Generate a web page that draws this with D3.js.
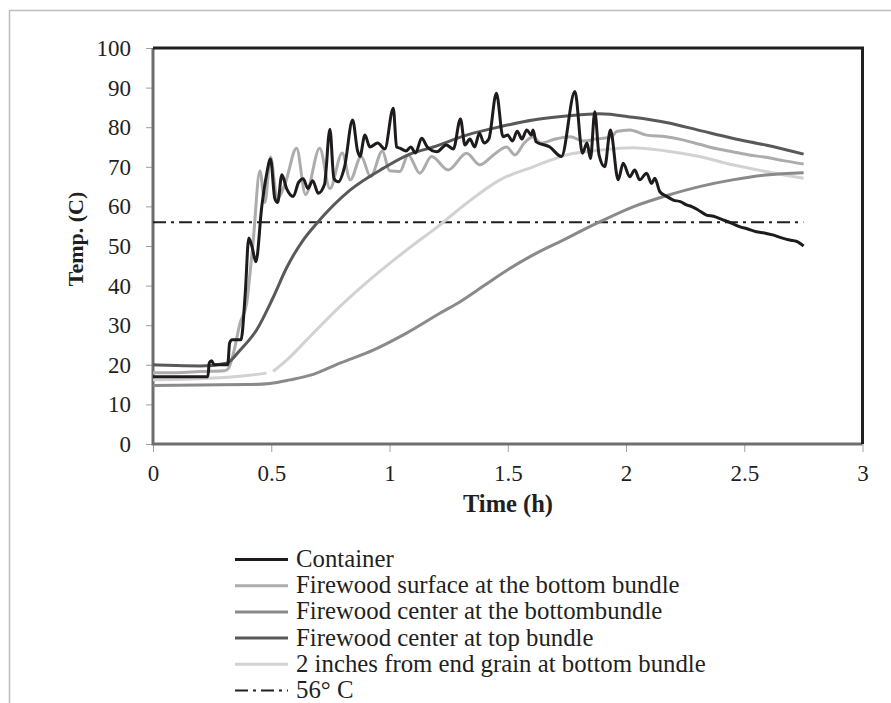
<!DOCTYPE html>
<html lang="en">
<head>
<meta charset="utf-8">
<style>
  body { margin: 0; background: white; }
  svg { font-family: "Liberation Serif", "Times New Roman", serif; }
</style>
<title></title>
</head>
<body>
<script src="https://d3js.org/d3.v7.min.js"></script>
<script>

// Container (thermocouple in the container air)
var containerTime = [0, 0.232, 0.238, 0.248, 0.258, 0.316, 0.324, 0.335, 0.372, 0.39, 0.405, 0.418, 0.435, 0.46, 0.48, 0.497,
  0.515, 0.527, 0.545, 0.565, 0.593, 0.615, 0.635, 0.655, 0.675, 0.699, 0.725, 0.748, 0.765, 0.783, 0.81, 0.844,
  0.865, 0.875, 0.896, 0.917, 0.95, 0.98, 1.016, 1.03, 1.044, 1.07, 1.09, 1.11, 1.136, 1.16, 1.2, 1.24, 1.27, 1.3,
  1.319, 1.34, 1.36, 1.38, 1.4, 1.42, 1.452, 1.48, 1.5, 1.52, 1.54, 1.56, 1.58, 1.6, 1.607, 1.62, 1.678, 1.727,
  1.784, 1.816, 1.835, 1.85, 1.868, 1.886, 1.91, 1.934, 1.967, 1.988, 2.016, 2.037, 2.058, 2.087, 2.108, 2.122,
  2.143, 2.17, 2.2, 2.23, 2.256, 2.28, 2.305, 2.34, 2.37, 2.41, 2.445, 2.48, 2.515, 2.551, 2.585, 2.62, 2.655,
  2.692, 2.72, 2.751];
var containerTemp = [17, 17, 20.5, 21, 20, 20, 25.5, 26.3, 26.3, 38, 52, 50, 46, 60, 68, 72,
  62, 61, 68, 64.5, 62.5, 66, 67, 64.5, 66.5, 63.3, 65.5, 79.5, 67, 66.2, 70, 81.8,
  74, 72.6, 78, 75, 76, 74.5, 84.8, 75, 74.7, 74, 75, 73.5, 77.2, 75, 73.8, 75.5, 74.5, 82.1,
  75.5, 77, 75, 78.5, 76, 77, 88.6, 77.6, 78, 76.5, 79, 77, 79.3, 78, 79.3, 76.3, 75, 72.6,
  89, 73.4, 76, 72.1, 83.9, 73, 70, 79.3, 66.7, 70.9, 67.5, 69.2, 66.7, 68.4, 65.8, 67.1,
  63.7, 62.6, 61.6, 61.2, 60.4, 59.9, 59.1, 57.8, 57.5, 56.6, 55.8, 54.9, 54.3, 53.6, 53.3, 52.8, 52.1,
  51.5, 51.2, 50];

// Firewood surface at the bottom bundle
var surfaceTime = [0, 0.1, 0.2, 0.3, 0.318, 0.34, 0.368, 0.396, 0.41, 0.424, 0.452, 0.473, 0.497, 0.525, 0.56,
  0.607, 0.645, 0.705, 0.748, 0.8, 0.834, 0.88, 0.92, 0.97, 1.0, 1.044, 1.079, 1.128, 1.178, 1.248, 1.326, 1.382,
  1.44, 1.495, 1.53, 1.57, 1.607, 1.64, 1.7, 1.764, 1.82, 1.87, 1.94, 1.96, 2.016, 2.087, 2.17, 2.24, 2.31,
  2.38, 2.45, 2.52, 2.59, 2.67, 2.751];
var surfaceTemp = [18, 18, 18.3, 18.5, 19, 22.9, 30.5, 35.5, 43, 51.5, 69, 61, 72.5, 62, 66,
  74.7, 63, 74.7, 64.5, 73.5, 66.7, 72.6, 67.5, 74, 69, 68.8, 73, 68.4, 72.6, 69.2, 73.4, 70.5,
  73, 75, 73, 76, 77.6, 76, 77, 77.6, 76.5, 77, 77.6, 78.9, 79.3, 78, 77.6, 76.8, 75.7,
  74.6, 73.8, 73, 72.4, 71.5, 70.7];

// Firewood center at the bottom bundle
var centerBottomTime = [0, 0.2, 0.4, 0.495, 0.579, 0.678, 0.79, 0.931, 1.072, 1.213, 1.3, 1.4, 1.5, 1.6, 1.734,
  1.875, 2.03, 2.17, 2.31, 2.45, 2.59, 2.751];
var centerBottomTemp = [14.8, 14.9, 15, 15.3, 16.2, 17.6, 20.4, 23.7, 28, 33, 36, 40, 44, 47.5, 51.5,
  55.7, 59.9, 62.7, 65, 66.7, 67.9, 68.5];

// Firewood center at top bundle
var centerTopTime = [0, 0.1, 0.2, 0.311, 0.368, 0.438, 0.508, 0.565, 0.635, 0.692, 0.833, 0.973, 1.086, 1.185,
  1.326, 1.467, 1.607, 1.748, 1.889, 2.03, 2.17, 2.31, 2.45, 2.59, 2.751];
var centerTopTemp = [20, 19.8, 19.7, 20.4, 23.7, 28.8, 37, 44.5, 51.5, 55.7, 64.1, 69.6, 73.2, 75,
  78, 80.1, 81.8, 82.8, 83.4, 82.5, 81.2, 79.2, 77.2, 75.5, 73.2];

// 2 inches from end grain at bottom bundle (short gap in the record near 0.49 h)
var endGrainTime = [0, 0.1, 0.2, 0.3, 0.4, 0.48, 0.49, 0.5, 0.508, 0.58, 0.65, 0.79, 0.931, 1.03, 1.128, 1.185,
  1.326, 1.467, 1.607, 1.748, 1.889, 2.03, 2.17, 2.31, 2.45, 2.59, 2.751];
var endGrainTemp = [16.2, 16.3, 16.5, 16.8, 17.3, 17.9, null, null, 18.3, 22, 26.3, 34.7, 42.2, 47, 51.5, 54,
  60.8, 66.7, 70, 73, 74.2, 74.8, 74, 72.6, 70.5, 68.8, 67.1];

var seriesNames = ["Container", "Firewood surface at the bottom bundle", "Firewood center at the bottombundle",
  "Firewood center at top bundle", "2 inches from end grain at bottom bundle"];
var seriesColors = ["#1f1b1c", "#acacac", "#8a8a8a", "#595959", "#d2d2d2"];
var refTemp = 56;
var refSpan = [0, 2.75];
var refName = "56\u00b0 C";

var xTicks = [0, 0.5, 1, 1.5, 2, 2.5, 3];
var yTicks = [0, 10, 20, 30, 40, 50, 60, 70, 80, 90, 100];

function zipSeries(ts, vs) {
  return ts.map(function(t, i) { return { t: t, v: vs[i] }; });
}
var series = [
  zipSeries(containerTime, containerTemp),
  zipSeries(surfaceTime, surfaceTemp),
  zipSeries(centerBottomTime, centerBottomTemp),
  zipSeries(centerTopTime, centerTopTemp),
  zipSeries(endGrainTime, endGrainTemp)
];

var W = 891, H = 703;
var plotL = 153, plotR = 862.5, plotT = 48, plotB = 444;

var svg = d3.select("body").append("svg")
  .attr("width", W)
  .attr("height", H);

// outer chart frame (runs off the page to the right and bottom)
svg.append("rect")
  .attr("x", 9.5).attr("y", 10.5)
  .attr("width", 1000).attr("height", 1000)
  .attr("fill", "none")
  .attr("stroke", "#bdbdbd")
  .attr("stroke-width", 1.5);

var x = d3.scaleLinear().domain([0, 3]).range([plotL, plotR]);
var y = d3.scaleLinear().domain([0, 100]).range([plotB, plotT]);

// axes
var yAxis = svg.append("g")
  .attr("transform", "translate(" + plotL + ",0)")
  .call(d3.axisLeft(y).tickValues(yTicks).tickSize(7).tickPadding(15));
var xAxis = svg.append("g")
  .attr("transform", "translate(0," + plotB + ")")
  .call(d3.axisBottom(x).tickValues(xTicks).tickSize(8).tickFormat(d3.format("")));

[yAxis, xAxis].forEach(function(g) {
  g.select(".domain").remove();
  g.selectAll(".tick line").attr("stroke", "#a0a0a0").attr("stroke-width", 1);
  g.selectAll(".tick text")
    .attr("fill", "#231f20")
    .style("font-size", "23px")
    .style("font-family", "'Liberation Serif', serif");
});
yAxis.selectAll(".tick text").attr("dy", "0.33em");
xAxis.selectAll(".tick text").attr("y", 37).attr("dy", 0);

// plot frame: grey left/bottom, dark top/right
svg.append("path")
  .attr("d", "M" + plotL + "," + plotT + "V" + plotB + "H" + plotR)
  .attr("fill", "none").attr("stroke", "#6e6e6e").attr("stroke-width", 3);
svg.append("path")
  .attr("d", "M" + plotL + "," + plotT + "H" + plotR + "V" + plotB)
  .attr("fill", "none").attr("stroke", "#231f20").attr("stroke-width", 3);

// reference line
svg.append("line")
  .attr("x1", x(refSpan[0])).attr("x2", x(refSpan[1]))
  .attr("y1", y(refTemp)).attr("y2", y(refTemp))
  .attr("stroke", "#231f20").attr("stroke-width", 2)
  .attr("stroke-dasharray", "13,5,3,5");

var line = d3.line()
  .defined(function(d) { return d.v !== null; })
  .x(function(d) { return x(d.t); })
  .y(function(d) { return y(d.v); })
  .curve(d3.curveMonotoneX);

[4, 2, 1, 3, 0].forEach(function(i) {
  svg.append("path")
    .datum(series[i])
    .attr("d", line)
    .attr("fill", "none")
    .attr("stroke", seriesColors[i])
    .attr("stroke-width", 3)
    .attr("stroke-linejoin", "round");
});

// axis titles
svg.append("text")
  .attr("transform", "translate(83,239) rotate(-90)")
  .attr("text-anchor", "middle")
  .style("font-size", "22px").style("font-weight", "bold")
  .attr("fill", "#231f20")
  .text("Temp. (C)");
svg.append("text")
  .attr("x", 508).attr("y", 512)
  .attr("text-anchor", "middle")
  .style("font-size", "24.5px").style("font-weight", "bold")
  .attr("fill", "#231f20")
  .text("Time (h)");

// legend
var legend = svg.append("g");
var rowH = 26.2, base = 567;
seriesNames.forEach(function(name, i) {
  var cy = base + i * rowH - 7.5;
  legend.append("line")
    .attr("x1", 235).attr("x2", 288).attr("y1", cy).attr("y2", cy)
    .attr("stroke", seriesColors[i]).attr("stroke-width", 3);
  legend.append("text")
    .attr("x", 296).attr("y", base + i * rowH)
    .style("font-size", "24.8px").attr("fill", "#231f20")
    .text(name);
});
var cyRef = base + 5 * rowH - 7.5;
legend.append("line")
  .attr("x1", 235).attr("x2", 288).attr("y1", cyRef).attr("y2", cyRef)
  .attr("stroke", "#231f20").attr("stroke-width", 2)
  .attr("stroke-dasharray", "13,5,3,5");
legend.append("text")
  .attr("x", 296).attr("y", base + 5 * rowH)
  .style("font-size", "24.8px").attr("fill", "#231f20")
  .text(refName);

</script>
</body>
</html>
